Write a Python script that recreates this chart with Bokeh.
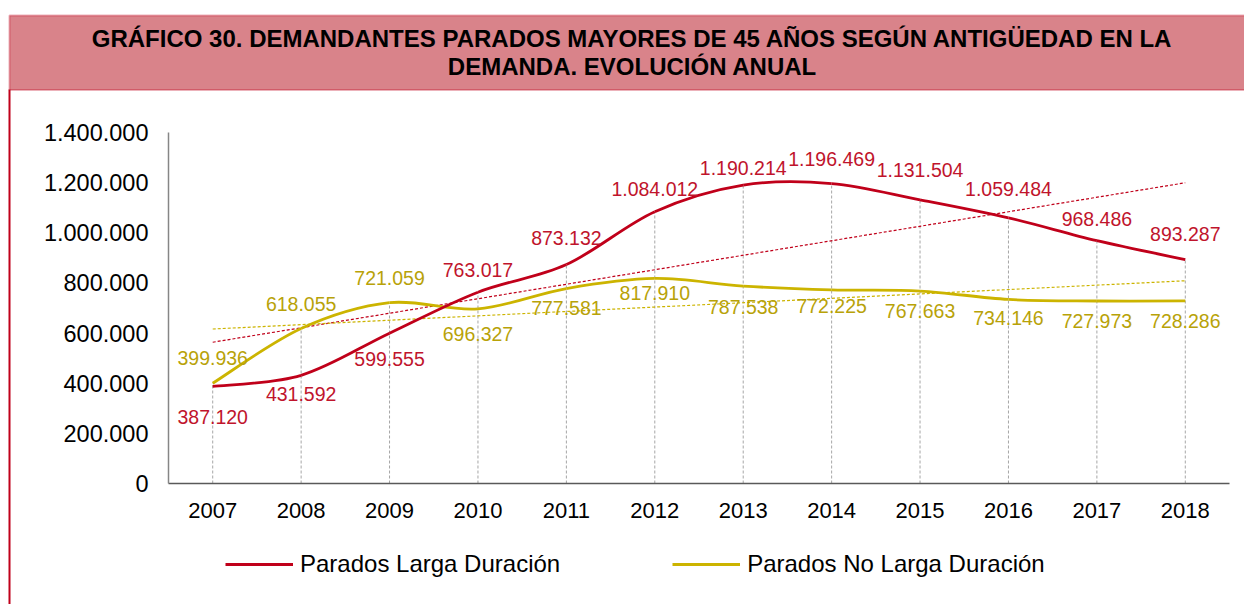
import numpy as np
from bokeh.plotting import figure
from bokeh.models import (Range1d, FixedTicker, Legend, LegendItem, BoxAnnotation, Label,
                          ColumnDataSource)
from bokeh.core.properties import value
from bokeh.embed import file_html
from bokeh.resources import INLINE

# ---------------- data ----------------
years = ["2007", "2008", "2009", "2010", "2011", "2012", "2013", "2014", "2015", "2016", "2017", "2018"]
larga = [387120, 431592, 599555, 763017, 873132, 1084012, 1190214, 1196469, 1131504, 1059484, 968486, 893287]
no_larga = [399936, 618055, 721059, 696327, 777581, 817910, 787538, 772225, 767663, 734146, 727973, 728286]
y_ticks = [0, 200000, 400000, 600000, 800000, 1000000, 1200000, 1400000]
title_lines = ["GRÁFICO 30. DEMANDANTES PARADOS MAYORES DE 45 AÑOS SEGÚN ANTIGÜEDAD EN LA",
               "DEMANDA. EVOLUCIÓN ANUAL"]
series_names = ["Parados Larga Duración", "Parados No Larga Duración"]

# label placement (pixels, positive = down)
larga_off = [31, 19, 26, -22, -27, -23, -17, -25, -30, -29, -22, -26]
no_larga_off = [-25, -25, -25, 25, 19, 15, 21, 16, 20, 19, 20, 20]

RED = "#C0001A"
RED_TXT = "#C0142C"
YEL = "#CCB400"
YEL_TXT = "#B8A208"
FONT = "Liberation Sans"

def fmt(v):
    return f"{v:,}".replace(",", ".")

# ---------------- layout (pixels) ----------------
W, H = 1244, 604
PL, PR, PT, PB = 168, 1229, 132, 483      # plot area edges
X0, X1 = -0.5, len(years) - 0.5
Y0, Y1 = 0, 1400000
ux = (PR - PL) / (X1 - X0)
uy = (PB - PT) / (Y1 - Y0)
xr = Range1d(X0 - PL / ux, X1 + (W - PR) / ux)
yr = Range1d(Y0 - (H - PB) / uy, Y1 + PT / uy)

p = figure(width=W, height=H, output_backend="svg", toolbar_location=None,
           x_range=xr, y_range=yr, min_border=0)
p.outline_line_color = None
p.xgrid.visible = False
p.ygrid.visible = False
p.background_fill_color = "white"
p.border_fill_color = "white"

xs = np.arange(len(years))

# axes (fixed inside the canvas)
p.xaxis.fixed_location = Y0
p.xaxis.bounds = (X0, X1)
p.yaxis.fixed_location = X0
p.yaxis.bounds = (Y0, Y1)
p.xaxis.ticker = FixedTicker(ticks=list(range(len(years))))
p.xaxis.major_label_overrides = {i: y for i, y in enumerate(years)}
p.yaxis.ticker = FixedTicker(ticks=y_ticks)
p.yaxis.major_label_overrides = {t: fmt(t) for t in y_ticks}
for ax in (p.xaxis, p.yaxis):
    ax.major_tick_line_color = None
    ax.minor_tick_line_color = None
    ax.major_label_text_font = FONT
    ax.major_label_text_color = "#000000"
p.xaxis.axis_line_color = "#595959"
p.xaxis.axis_line_width = 1.5
p.yaxis.axis_line_color = "#868686"
p.yaxis.axis_line_width = 1.5
p.xaxis.major_label_text_font_size = "22px"
p.yaxis.major_label_text_font_size = "23.5px"
p.xaxis.major_label_standoff = 13
p.yaxis.major_label_standoff = 14

# title box and left frame line
p.add_layout(BoxAnnotation(left=9, right=1300, top=15, bottom=89.5,
                           left_units="canvas", right_units="canvas",
                           top_units="canvas", bottom_units="canvas",
                           fill_color="#D9838A", fill_alpha=1, line_color=RED, line_width=2,
                           level="underlay"))
p.add_layout(BoxAnnotation(left=8, right=10, top=89, bottom=700,
                           left_units="canvas", right_units="canvas",
                           top_units="canvas", bottom_units="canvas",
                           fill_color=RED, fill_alpha=1, line_color=None, level="underlay"))
for t, yy in zip(title_lines, [38, 65.5]):
    p.add_layout(Label(x=632, y=yy, x_units="canvas", y_units="canvas", text=t,
                       text_align="center", text_baseline="middle", text_font=FONT,
                       text_font_style="bold", text_font_size="24px", text_color="#000000"))

# drop lines
top = [max(a, b) for a, b in zip(larga, no_larga)]
p.segment(x0=xs, y0=[0] * len(xs), x1=xs, y1=top, line_color="#a6a6a6",
          line_width=1, line_dash="3 2")

# trend lines (linear fit)
for vals, col in ((larga, RED), (no_larga, YEL)):
    m, b = np.polyfit(xs, vals, 1)
    p.line(x=[xs[0], xs[-1]], y=[m * xs[0] + b, m * xs[-1] + b], line_color=col,
           line_width=1.2, line_dash="3 2")

# smoothed series (Excel style bezier)
def bez(vals):
    v = np.asarray(vals, dtype=float)
    x = xs.astype(float)
    n = len(v)
    d = {k: [] for k in ("x0", "y0", "x1", "y1", "cx0", "cy0", "cx1", "cy1")}
    for i in range(n - 1):
        im = max(i - 1, 0)
        ip2 = min(i + 2, n - 1)
        d["x0"].append(x[i]); d["y0"].append(v[i])
        d["x1"].append(x[i + 1]); d["y1"].append(v[i + 1])
        d["cx0"].append(x[i] + (x[i + 1] - x[im]) / 6.0)
        d["cy0"].append(v[i] + (v[i + 1] - v[im]) / 6.0)
        d["cx1"].append(x[i + 1] - (x[ip2] - x[i]) / 6.0)
        d["cy1"].append(v[i + 1] - (v[ip2] - v[i]) / 6.0)
    return ColumnDataSource(d)

kw = dict(x0="x0", y0="y0", x1="x1", y1="y1", cx0="cx0", cy0="cy0", cx1="cx1", cy1="cy1")
r_yel = p.bezier(source=bez(no_larga), line_color=YEL, line_width=2.8, **kw)
r_red = p.bezier(source=bez(larga), line_color=RED, line_width=2.8, **kw)

# data labels
p.text(x=xs, y=larga, text=[fmt(v) for v in larga], y_offset=larga_off,
       text_align="center", text_baseline="middle", text_color=RED_TXT,
       text_font=value(FONT), text_font_size="19.5px")
p.text(x=xs, y=no_larga, text=[fmt(v) for v in no_larga], y_offset=no_larga_off,
       text_align="center", text_baseline="middle", text_color=YEL_TXT,
       text_font=value(FONT), text_font_size="19.5px")

# legend
legend = Legend(items=[LegendItem(label=series_names[0], renderers=[r_red]),
                       LegendItem(label=series_names[1], renderers=[r_yel])],
                orientation="horizontal", location=(225, 26), padding=0, margin=0,
                border_line_color=None, background_fill_alpha=0, glyph_width=68,
                glyph_height=24, label_height=24, label_standoff=7, spacing=112,
                label_text_font=FONT, label_text_font_size="24px", label_text_color="#000000")
p.add_layout(legend, "center")

open("out.html", "w").write(file_html(p, INLINE))
